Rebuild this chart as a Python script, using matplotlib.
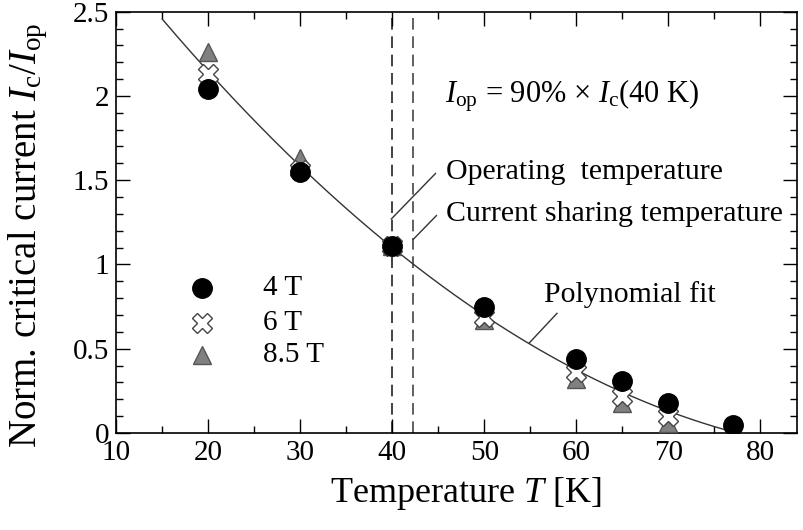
import numpy as np
import matplotlib.pyplot as plt
from matplotlib.ticker import MultipleLocator

plt.rcParams['font.family'] = ['Liberation Serif', 'DejaVu Serif']
plt.rcParams['mathtext.fontset'] = 'custom'
plt.rcParams['mathtext.rm'] = 'Liberation Serif'
plt.rcParams['mathtext.it'] = 'Liberation Serif:italic'

# measured points, normalised critical current
temp = [20, 30, 40, 50, 60, 65, 70, 77]
ic_4t = [2.04, 1.55, 1.11, 0.75, 0.44, 0.31, 0.18, 0.05]
temp_hi = [20, 30, 40, 50, 60, 65, 70]
ic_6t = [2.13, 1.56, 1.11, 0.69, 0.36, 0.22, 0.10]
ic_85t = [2.26, 1.63, 1.11, 0.67, 0.32, 0.18, 0.06]

t_op = 40
t_cs = 42.3

fig = plt.figure(figsize=(8.04, 5.30), dpi=100)
ax = fig.add_axes([0.1445, 0.183, 0.847, 0.795])

# polynomial fit through all points
all_t = np.array(temp + temp_hi + temp_hi, dtype=float)
all_i = np.array(ic_4t + ic_6t + ic_85t)
coef = np.polyfit(all_t, all_i, 2)
tt = np.linspace(15, 80, 300)
ff = np.polyval(coef, tt)
keep = ff >= 0
ax.plot(tt[keep], ff[keep], color='#333333', lw=1.0, zorder=2)

ax.axvline(t_op, color='#222222', lw=1.2, ls=(0, (7, 4)), zorder=1)
ax.axvline(t_cs, color='#444444', lw=1.2, ls=(0, (7, 4)), zorder=1)

ax.plot(temp_hi, ic_85t, ls='none', marker='^', ms=13, mfc='#808080', mec='#555555', mew=1, zorder=3)
ax.plot(temp_hi, ic_6t, ls='none', marker='X', ms=14, mfc='white', mec='#444444', mew=1, zorder=4)
ax.plot(temp, ic_4t, ls='none', marker='o', ms=14, mfc='black', mec='black', zorder=5)

# hand-made legend
ax.plot([19.3], [0.86], ls='none', marker='o', ms=14, mfc='black', mec='black')
ax.plot([19.3], [0.65], ls='none', marker='X', ms=14, mfc='white', mec='#444444', mew=1)
ax.plot([19.3], [0.46], ls='none', marker='^', ms=13, mfc='#808080', mec='#555555', mew=1)
ax.text(26, 0.86, '4 T', fontsize=21, va='center')
ax.text(26, 0.65, '6 T', fontsize=21, va='center')
ax.text(26, 0.46, '8.5 T', fontsize=21, va='center')

ax.text(45.7, 2.0, r'$I_{\mathrm{op}}$ = 90% × $I_{\mathrm{c}}$(40 K)', fontsize=22, va='center')
ax.text(45.8, 1.55, 'Operating  temperature', fontsize=21.5, va='center')
ax.text(45.8, 1.30, 'Current sharing temperature', fontsize=21.5, va='center')
ax.text(56.5, 0.82, 'Polynomial fit', fontsize=21.5, va='center')
ax.plot([39.9, 44.7], [1.27, 1.54], color='#333333', lw=1)
ax.plot([42.3, 44.8], [1.15, 1.29], color='#333333', lw=1)
ax.plot([54.9, 57.9], [0.535, 0.71], color='#333333', lw=1)

ax.set_xlim(10, 84)
ax.set_ylim(0, 2.5)
ax.xaxis.set_major_locator(MultipleLocator(10))
ax.xaxis.set_minor_locator(MultipleLocator(5))
ax.yaxis.set_major_locator(MultipleLocator(0.5))
ax.yaxis.set_minor_locator(MultipleLocator(0.1))
ax.set_xticks([10, 20, 30, 40, 50, 60, 70, 80])
ax.set_xticklabels(['10', '20', '30', '40', '50', '60', '70', '80'])
ax.set_yticks([0, 0.5, 1, 1.5, 2, 2.5])
ax.set_yticklabels(['0', '0.5', '1', '1.5', '2', '2.5'])
ax.tick_params(which='both', direction='in', top=True, right=True, labelsize=21, width=1)
ax.tick_params(which='major', length=10, pad=5)
ax.tick_params(which='minor', length=5)
for s in ax.spines.values():
    s.set_linewidth(1.2)

ax.set_xlabel(r'Temperature $T$ [K]', fontsize=26)
ax.set_ylabel(r'Norm. critical current $I_{\mathrm{c}}/I_{\mathrm{op}}$', fontsize=28)
ax.xaxis.set_label_coords(0.513, -0.1)
ax.yaxis.set_label_coords(-0.097, 0.47)

fig.savefig('out.png', dpi=100)
